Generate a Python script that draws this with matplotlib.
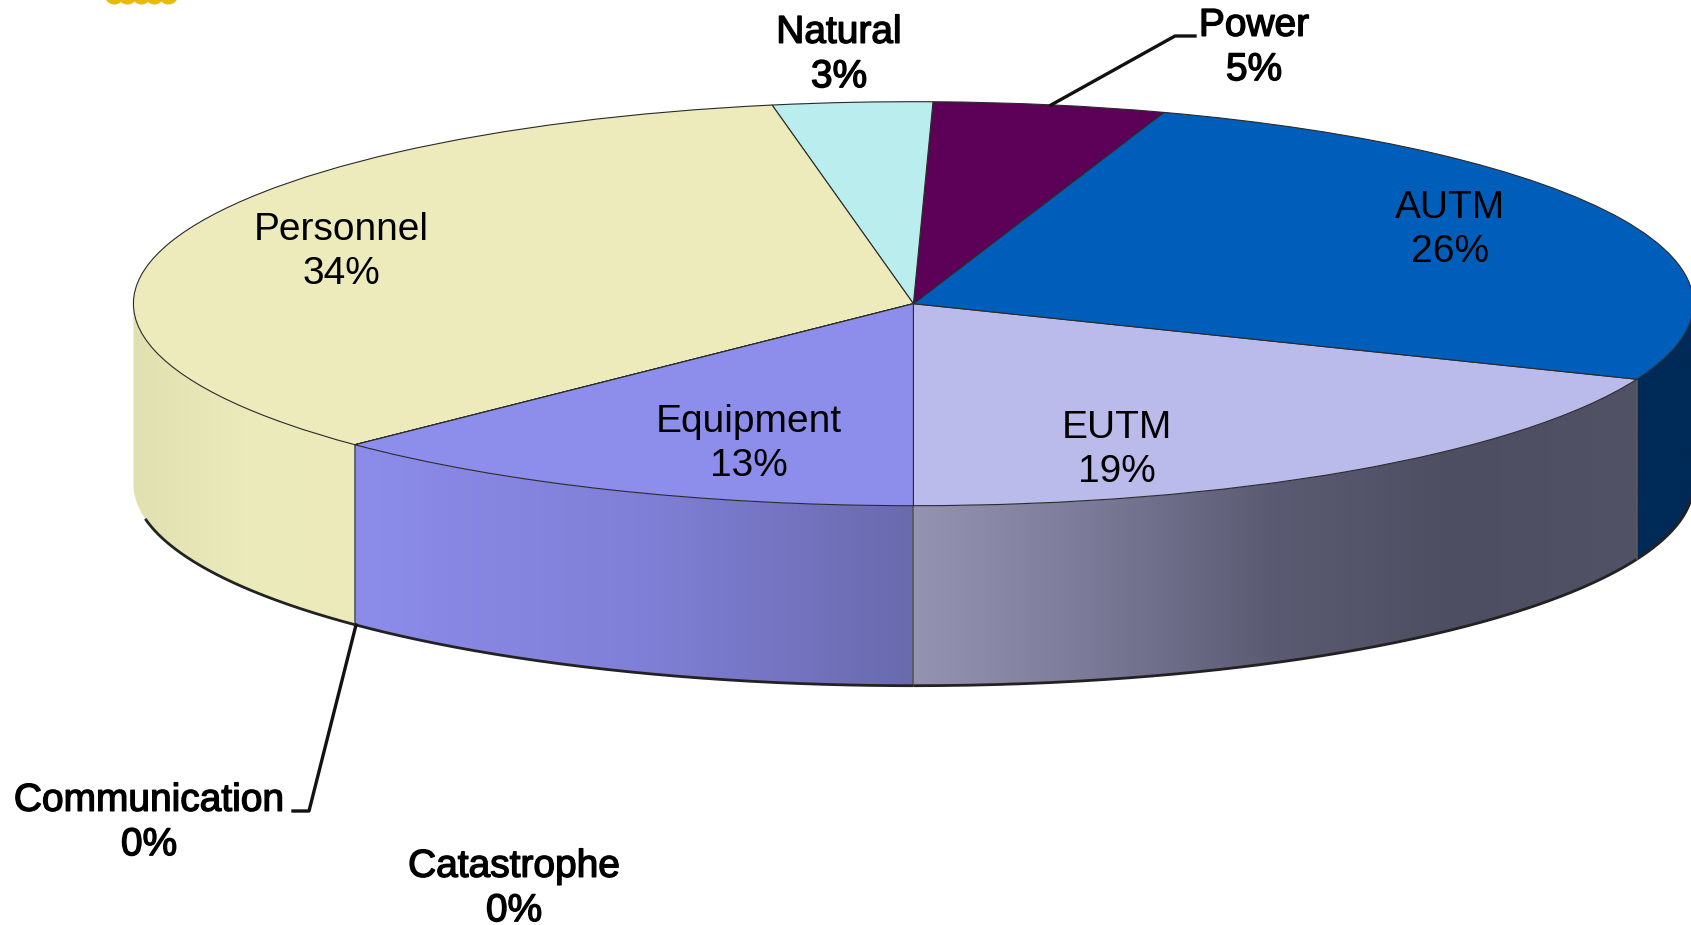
import matplotlib
matplotlib.use("Agg")
import matplotlib.pyplot as plt
import matplotlib.patheffects as pe
from matplotlib.colors import LinearSegmentedColormap
import numpy as np

# data
categories = ["EUTM", "AUTM", "Power", "Natural", "Personnel", "Communication", "Catastrophe", "Equipment"]
percents = [18.9, 25.9, 4.8, 3.3, 34.4, 0, 0, 12.7]

# colours
top_colors = ["#BBBBEB", "#005EBB", "#5C0058", "#BAEDED", "#EDEBBC", "#EDEBBC", "#8D8DEB", "#8D8DEB"]
wall_colors = [
    ["#9494B2", "#7A7A98", "#5A5A72", "#4E4E62", "#525266"],
    ["#002A57", "#002A57"],
    ["#5C0058", "#5C0058"],
    ["#BAEDED", "#BAEDED"],
    ["#E0E0B0", "#EAEABA", "#EDEBBC"],
    ["#EDEBBC", "#EDEBBC"],
    ["#8D8DEB", "#8D8DEB"],
    ["#8C8CEA", "#8080D8", "#6A6AAE"],
]

W, H = 1691, 925
CX, CY = 913.4, 303.7  # ellipse centre, pixels
RX, RY = 780.0, 202.0
DEPTH = 180.0 / RY


def px(x, y):
    # pixel position of the picture -> axes data (unit pie)
    return (x - CX) / RX, (CY - y) / RY


fig = plt.figure(figsize=(W / 100, H / 100), dpi=100)
ax = fig.add_axes([0, 0, 1, 1])
xlim = (px(0, 0)[0], px(W, 0)[0])
ylim = (px(0, H)[1], px(0, 0)[1])

# top of the pie
wedges, _ = ax.pie(percents, colors=top_colors, startangle=270, radius=1,
                   wedgeprops={"edgecolor": "#2a2a2a", "linewidth": 0.8, "zorder": 5})

# side walls from the pie's own angles, only the front half (180-360) shows
for w, cols in zip(wedges, wall_colors):
    for shift in (0, 360):
        t1 = max(w.theta1 - shift, 180)
        t2 = min(w.theta2 - shift, 360)
        if t2 <= t1:
            continue
        th = np.radians(np.linspace(t1, t2, 200))
        xs, ys = np.cos(th), np.sin(th)
        poly_x = np.r_[xs, xs[::-1]]
        poly_y = np.r_[ys, (ys - DEPTH)[::-1]]
        cmap = LinearSegmentedColormap.from_list("wall", cols)
        im = ax.imshow(np.linspace(0, 1, 256).reshape(1, -1), cmap=cmap, aspect="auto", zorder=2,
                       extent=(xs.min(), xs.max(), -1.0 - DEPTH, 1.0))
        clip = plt.Polygon(np.c_[poly_x, poly_y], closed=True, transform=ax.transData, fc="none", ec="none")
        ax.add_patch(clip)
        im.set_clip_path(clip)
        # bottom rim, a bit heavy like the shadow in the original, fades out at the far left
        rim = np.degrees(th) > 190
        ax.plot(xs[rim], ys[rim] - DEPTH, color="#222222", lw=2.0, zorder=3, solid_capstyle="butt")
        # edges between the walls
        if t1 > 180:
            ax.plot([xs[0], xs[0]], [ys[0], ys[0] - DEPTH], color="#555555", lw=1.2, zorder=3)

# leader lines
lx, ly = zip(px(1051, 105), px(1175, 36), px(1195, 36))
ax.plot(lx, ly, color="#111111", lw=2.4, zorder=6)
lx, ly = zip(px(356, 625), px(309, 811), px(293, 811))
ax.plot(lx, ly, color="#111111", lw=2.4, zorder=6)

# scrap of the clip art at the upper edge
art_x = [114, 127, 141, 154, 168]
art_pts = [px(x, -6) for x in art_x]
ax.scatter([p[0] for p in art_pts], [p[1] for p in art_pts], s=207, color="#E8B90E", linewidths=0, zorder=1)

# labels
label_pos = {
    "Natural": (839, 52),
    "Power": (1254, 45),
    "AUTM": (1450, 227),
    "EUTM": (1117, 447),
    "Equipment": (749, 441),
    "Personnel": (341, 249),
    "Communication": (149, 820),
    "Catastrophe": (514, 886),
}
outside = ["Natural", "Power", "Communication", "Catastrophe"]
for name, value in zip(categories, percents):
    x, y = px(label_pos[name][0], label_pos[name][1] + 3)
    t = ax.text(x, y, f"{name}\n{round(value)}%", ha="center", va="center", fontsize=28,
                family="Liberation Sans", linespacing=1.3, color="black", zorder=7)
    if name in outside:
        t.set_path_effects([pe.withStroke(linewidth=1.0, foreground="black")])

ax.set_aspect("auto")
ax.set_xlim(xlim)
ax.set_ylim(ylim)
ax.axis("off")
fig.savefig("out.png", dpi=100, facecolor="white")
